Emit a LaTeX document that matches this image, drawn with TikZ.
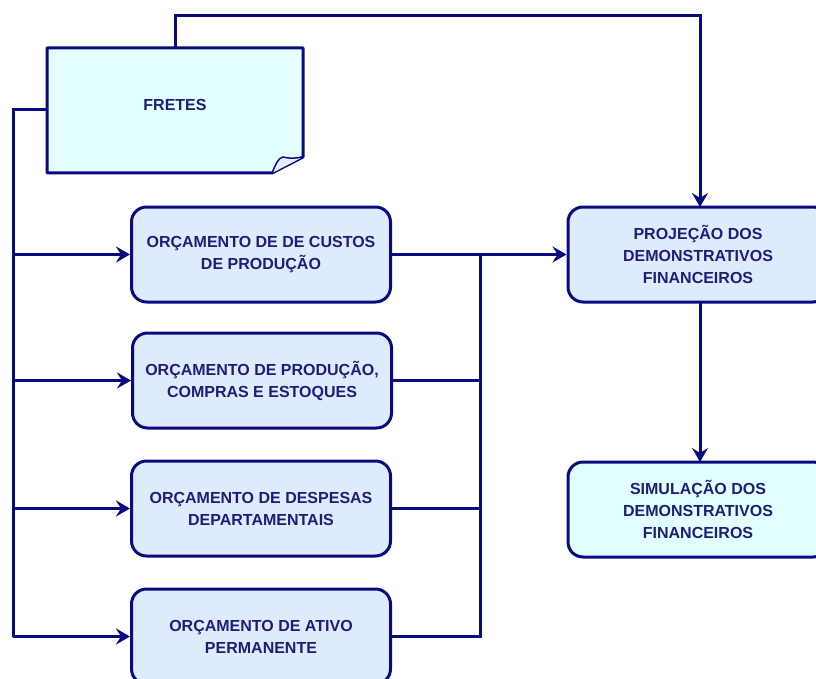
\documentclass[tikz,border=0pt]{standalone}
\usepackage{fontspec}
\setmainfont{Liberation Sans}
\usetikzlibrary{arrows.meta}
\definecolor{navy}{HTML}{0A0A80}
\definecolor{txt}{HTML}{1E1E78}
\definecolor{blueF}{HTML}{DDEBFD}
\definecolor{cyanF}{HTML}{E2FFFF}
\tikzset{
  x=1pt,y=-1pt,
  wire/.style={draw=navy,line width=3pt},
  arr/.style={wire,-{Stealth[length=14pt,width=16pt,inset=5pt]}},
  txtfont/.style={font=\bfseries\fontsize{16}{22}\selectfont,text=txt},
  box/.style={draw=navy,line width=3pt,rounded corners=15pt,minimum width=259pt,minimum height=95pt,
    fill=blueF,txtfont,align=center,inner sep=0pt},
  rbox/.style={box,minimum width=260pt},
}
\begin{document}
\begin{tikzpicture}
\useasboundingbox (0,0) rectangle (816,679);
\clip (0,0) rectangle (816,679);
% FRETES note
\path[fill=cyanF,draw=navy,line width=3pt,line join=round] (47,48) -- (303,48) -- (303,157) -- (272,173) -- (47,173) -- cycle;
\path[fill=blueF!70!white,draw=navy,line width=1.5pt] (272,173) .. controls (276,164) and (278,158) .. (283,157) .. controls (290,159) and (297,158) .. (303,157);
\node[txtfont] (fretes) at (175,105) {FRETES};
\coordinate (ftop) at (175,48);
\coordinate (fleft) at (47,110);
% boxes
\node[box] (b1) at (261,254.5) {ORÇAMENTO DE DE CUSTOS\\DE PRODUÇÃO};
\node[box] (b2) at (262,380.5) {ORÇAMENTO DE PRODUÇÃO,\\COMPRAS E ESTOQUES};
\node[box] (b3) at (261,508.5) {ORÇAMENTO DE DESPESAS\\DEPARTAMENTAIS};
\node[box] (b4) at (261,636.5) {ORÇAMENTO DE ATIVO\\PERMANENTE};
\node[rbox] (proj) at (698,254.5) {PROJEÇÃO DOS\\DEMONSTRATIVOS\\FINANCEIROS};
\node[rbox,fill=cyanF] (sim) at (698,509.5) {SIMULAÇÃO DOS\\DEMONSTRATIVOS\\FINANCEIROS};
% top connector
\draw[arr] (ftop) |- (700,16) -- (700,207);
% left bus
\coordinate (lb) at (13,110);
\draw[wire] (fleft) -- (lb) -- (13,636.5);
\draw[arr] (13,254.5) -- (b1.west);
\draw[arr] (13,380.5) -- (b2.west);
\draw[arr] (13,508.5) -- (b3.west);
\draw[arr] (13,636.5) -- (b4.west);
% right bus
\draw[arr] (b1.east) -- (proj.west);
\coordinate (rb) at (480,254.5);
\draw[wire] (b2.east) -- (480,380.5);
\draw[wire] (b3.east) -- (480,508.5);
\draw[wire] (b4.east) -- (480,636.5) -- (rb);
% down
\draw[arr] (700,302) -- (700,462);
\end{tikzpicture}
\end{document}
